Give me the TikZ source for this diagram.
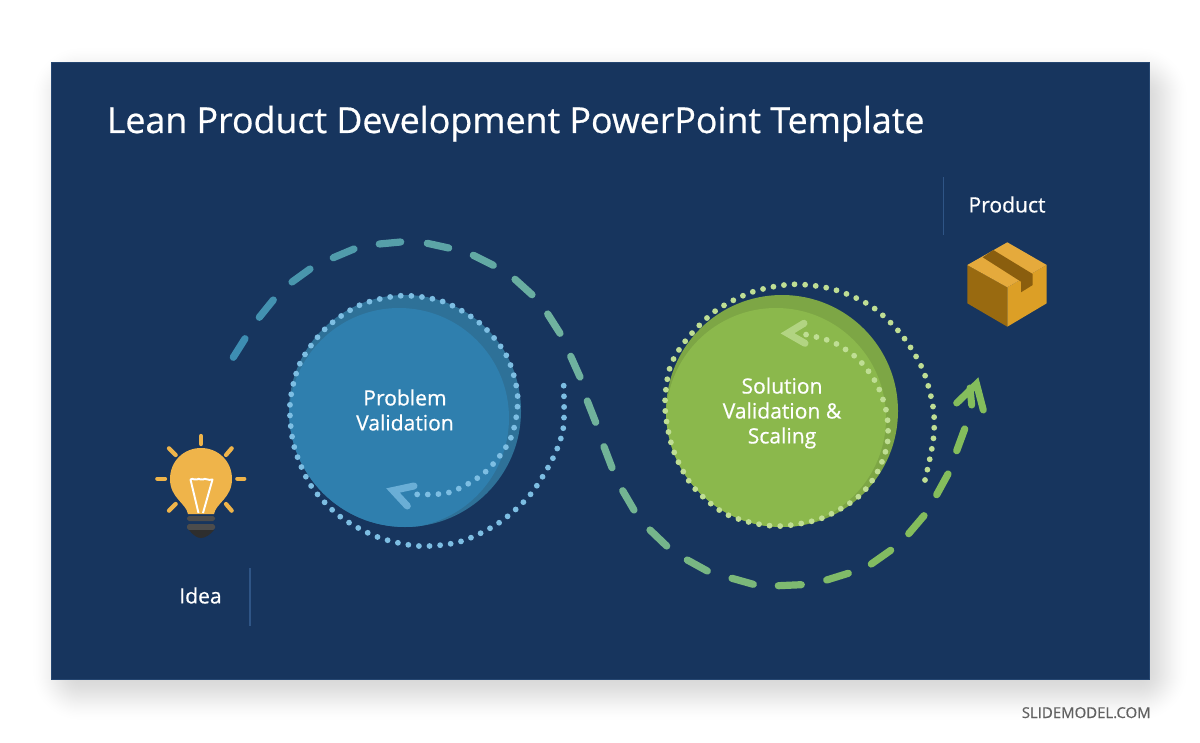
\documentclass[tikz,border=0pt]{standalone}
\usepackage{fontspec}
\setmainfont[FakeBold=0.6]{Open Sans}
\usepackage{xcolor}
\definecolor{slidebg}{HTML}{17355E}
\definecolor{slideedge}{HTML}{254671}
\definecolor{rulecol}{HTML}{2F5586}
\definecolor{blueouter}{HTML}{2E7198}
\definecolor{blueinner}{HTML}{2F7FAE}
\definecolor{bluedot}{HTML}{7DBEE3}
\definecolor{greenouter}{HTML}{7DA645}
\definecolor{greeninner}{HTML}{8BB84C}
\definecolor{greendot}{HTML}{BFDE94}
\definecolor{dashstart}{HTML}{3D8DB2}
\definecolor{dashmid}{HTML}{6FB29F}
\definecolor{dashend}{HTML}{84BD5C}
\definecolor{bulbcol}{HTML}{EFB44A}
\definecolor{boxtop}{HTML}{E5AA3C}
\definecolor{boxleft}{HTML}{996A10}
\definecolor{boxright}{HTML}{DC9F26}
\definecolor{boxtape}{HTML}{8A5E0E}
\usetikzlibrary{positioning}

\begin{document}
\begin{tikzpicture}[
  x=0.02cm, y=-0.02cm,
  title/.style={text=white, anchor=base west, inner sep=0pt, font=\fontsize{20.35}{24}\selectfont},
  label/.style={text=white, align=center, inner sep=0pt, font=\fontsize{12}{14.2}\selectfont},
  footer/.style={text=black!62, anchor=base east, inner sep=0pt, font=\fontsize{8.5}{10}\selectfont},
  sep/.style={draw=rulecol, line width=0.6pt},
  dotline/.style={line width=3.3pt, line cap=round, dash pattern=on 0pt off 6.05pt},
  tipline/.style={line width=4pt, line cap=round, line join=miter},
  dashline/.style={line width=4.1pt, line cap=round},
  ray/.style={draw=bulbcol, line width=2.4pt, line cap=round}
]
\useasboundingbox (0,0) rectangle (1200,743);

% Page and soft shadow
\fill[white] (0,0) rectangle (1200,743);
\foreach \i in {1,...,40} {
  \pgfmathsetmacro{\inset}{50*(0.5-sin(asin(1-2*(\i-0.5)/40)/3))}
  \pgfmathsetmacro{\rad}{(51-\inset)*0.02}
  \fill[black, opacity=0.004, rounded corners=\rad cm]
    ({30+\inset},{45+\inset}) rectangle ({1190-\inset},{723-\inset});
}

% Slide
\fill[slidebg, draw=slideedge, line width=0.4pt] (51,62) rectangle (1149.7,679.7);
\node[title] (heading) at (106.5,133) {Lean Product Development PowerPoint Template};
\node[footer] (brand) at (1151,718) {SLIDEMODEL.COM};

% Problem circle
\fill[blueouter] (405,411) circle (116);
\begin{scope}
  \clip (405,411) circle (116);
  \fill[blueinner] (399,418) circle (110);
\end{scope}
\node[label] (problem) at (405,410) {Problem\\Validation};

% Solution circle
\fill[greenouter] (782,411) circle (116);
\begin{scope}
  \clip (782,411) circle (116);
  \fill[greeninner] (776,418) circle (110);
\end{scope}
\node[label] (solution) at (782,413) {Solution\\Validation \&\\Scaling};

% Dotted loops
\draw[bluedot, dotline] plot[smooth] coordinates {(563.7,385.7) (563.3,428) (552.7,458.7) (530,495) (498.7,523) (460,541.7) (418.3,546) (376.7,536.7) (339.3,516) (310.7,485.3) (294,446) (290,404) (300,363.3) (325.3,328.7) (360,305) (401.7,295.7) (443.3,301.7) (480,323.3) (506.7,356) (517.7,396.7) (510.7,438.3) (485,472.3) (448.3,492.7) (406.7,494)};
\draw[bluedot!75!blueinner, tipline] (414,486) -- (393,490.5) -- (407.3,506);
\draw[greendot, dotline] plot[smooth] coordinates {(925,480) (933.3,440) (933.3,408.3) (922.7,369.3) (901,334) (871,306) (833.3,289.3) (792.7,284.3) (752.3,292) (715.7,310.7) (686.7,339.3) (670,367.3) (665,406.7) (672.7,448.3) (691.7,485) (721.7,511.7) (751.7,522.7) (782.3,526) (821.7,518.3) (857.3,497.7) (876.7,473.3) (887.3,444) (886.7,413.3) (876.7,384) (858.3,359.3) (832.7,342) (803.3,334)};
\draw[greendot!75!greeninner, tipline] (804,323.3) -- (787.5,333.3) -- (805,343.3);

% Dashed path from idea to product
\foreach \xa/\ya/\xb/\yb/\col in {
  233.3/357.3/245/338.7/dashstart,
  259.3/317.3/273.3/300/dashstart!88!dashmid,
  292/282/310/269/dashstart!75!dashmid,
  333.3/257.7/354/249/dashstart!62!dashmid,
  379.3/244/400.7/242/dashstart!50!dashmid,
  427.3/243.3/448.7/248/dashstart!38!dashmid,
  473.3/255.3/493.3/265.3/dashstart!25!dashmid,
  515/279.3/532/294.7/dashstart!12!dashmid,
  547.7/314/560/333.3/dashmid,
  570.7/356.3/580/377/dashmid,
  587.3/401/595.7/422.3/dashmid!95!dashend,
  604/446.7/612/467.7/dashmid!88!dashend,
  622.7/490.7/634/510/dashmid!80!dashend,
  650/530/666.7/546/dashmid!70!dashend,
  687.3/560/707.3/571/dashmid!58!dashend,
  732/578.3/753.3/584.3/dashmid!45!dashend,
  778.3/585.7/801.3/584.7/dashmid!30!dashend,
  826.7/580/848.3/573.3/dashmid!18!dashend,
  871.3/564/890.7/550.3/dashmid!8!dashend,
  908.7/533.7/924/515.7/dashend,
  936.7/494.7/948/474/dashend,
  956.7/450.7/964.7/429/dashend}
  \draw[\col, dashline] (\xa,\ya) -- (\xb,\yb);
\draw[dashend, tipline] (956.7,403) -- (976.5,384) -- (983.3,410);
\draw[dashend, tipline] (971.7,405) -- (970,388);

% Idea bulb
\foreach \xa/\ya/\xb/\yb in {201/436/201/444, 157.3/478.7/165/478.7, 237.3/478.7/244.3/478.7, 169/448.3/175.7/455, 231.7/448.3/226/455, 169/510.7/175.7/504, 231.7/510.7/226/504}
  \draw[ray] (\xa,\ya) -- (\xb,\yb);
\fill[bulbcol] (188,514) .. controls (186,503) and (170,498) .. (170,479)
  .. controls (170,461) and (184,448) .. (201,448)
  .. controls (218,448) and (232,461) .. (232,479)
  .. controls (232,498) and (216,503) .. (214,514) -- cycle;
\draw[white, line width=1.1pt, line join=round] (198.5,513) -- (190.5,479.5) .. controls (193,477.5) and (195,481) .. (197,479.5) .. controls (199,477.5) and (201,481) .. (203,479.5) .. controls (205,477.5) and (208,481) .. (212.5,479.5) -- (203,513);
\fill[black!70, rounded corners=1pt] (187,516) rectangle (215,521);
\fill[black!70, rounded corners=1pt] (187,524) rectangle (215,530);
\fill[black!82] (189,530) -- (214,530) .. controls (210,535) and (205,538) .. (201,538) .. controls (197,538) and (193,535) .. (189,530) -- cycle;
\draw[sep] (250,568) -- (250,626);
\node[label] (idea) at (200.5,595.5) {Idea};

% Product box
\fill[boxleft] (967.3,265) -- (1007.3,287.3) -- (1007.3,326.7) -- (967.3,303.3) -- cycle;
\fill[boxright] (1046.7,265) -- (1007.3,287.3) -- (1007.3,326.7) -- (1046.7,303.3) -- cycle;
\fill[boxtop] (1007.3,242.3) -- (1046.7,265) -- (1007.3,287.3) -- (967.3,265) -- cycle;
\fill[boxtape] (993.3,250) -- (982.7,257.3) -- (1021,281.7) -- (1021,292.3) -- (1032.7,285) -- (1032.7,274) -- cycle;
\draw[sep] (943.5,177) -- (943.5,235);
\node[label] (product) at (1007,204.5) {Product};
\end{tikzpicture}
\end{document}
